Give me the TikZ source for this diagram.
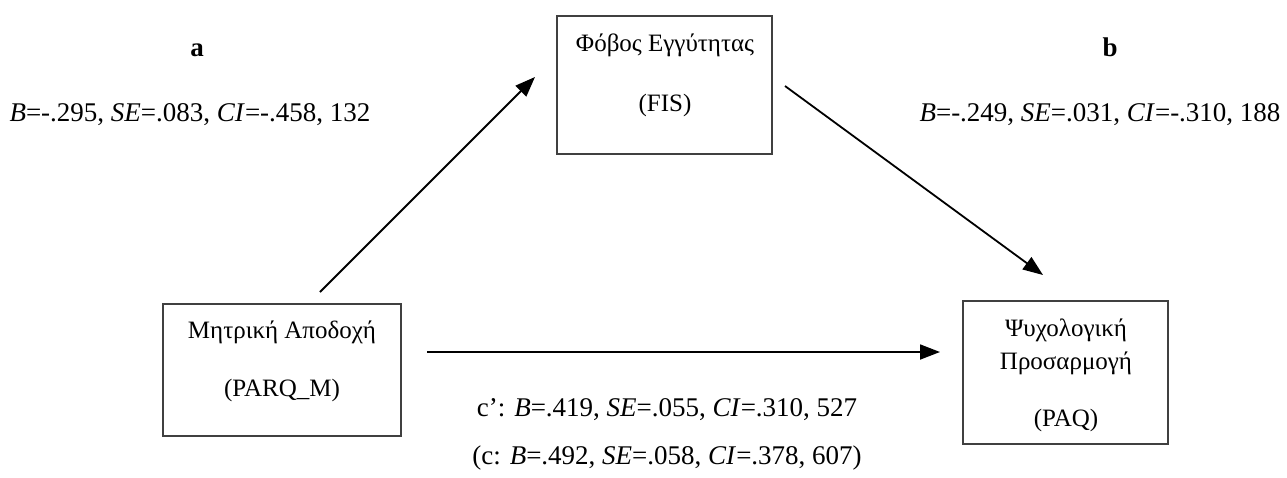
\documentclass[tikz,border=0pt]{standalone}
\usepackage{fontspec}
\setmainfont{Liberation Serif}
\usetikzlibrary{arrows.meta}
\begin{document}
\begin{tikzpicture}[x=1pt,y=-1pt,
  boxstyle/.style={draw=black!75,line width=1.1pt},
  txt/.style={inner sep=0pt,anchor=center,font=\fontsize{25}{30}\selectfont},
  lbl/.style={inner sep=0pt,anchor=center,font=\fontsize{27}{32}\selectfont},
  conn/.style={line width=1.8pt,-{Triangle[length=20pt,width=15pt]}}]
\useasboundingbox (0,0) rectangle (1287,477);
% boxes
\draw[boxstyle] (557,16) rectangle (772,154);
\draw[boxstyle] (163,304) rectangle (401,436);
\draw[boxstyle] (963,301) rectangle (1168,444);
% box texts
\node[txt] (fis1) at (665,45) {Φόβος Εγγύτητας};
\node[txt] (fis2) at (665,105) {(FIS)};
\node[txt] (parq1) at (282,332) {Μητρική Αποδοχή};
\node[txt] (parq2) at (282,390) {(PARQ\_M)};
\node[txt] (paq1) at (1066,330) {Ψυχολογική};
\node[txt] (paq2) at (1066,363) {Προσαρμογή};
\node[txt] (paq3) at (1066,420) {(PAQ)};
% labels
\node[lbl,anchor=base,font=\fontsize{27}{32}\selectfont\bfseries] (la) at (197,56) {a};
\node[lbl,anchor=base,font=\fontsize{27}{32}\selectfont\bfseries] (lb) at (1110,56) {b};
\node[lbl] (sa) at (190,115) {\textit{B}=-.295, \textit{SE}=.083, \textit{CI}=-.458, 132};
\node[lbl] (sb) at (1100,115) {\textit{B}=-.249, \textit{SE}=.031, \textit{CI}=-.310, 188};
\node[lbl] (sc1) at (667,410) {c’: \textit{B}=.419, \textit{SE}=.055, \textit{CI}=.310, 527};
\node[lbl] (sc2) at (667,458) {(c: \textit{B}=.492, \textit{SE}=.058, \textit{CI}=.378, 607)};
% connector end points
\coordinate (a0) at (320,292);
\coordinate (a1) at (535,77);
\coordinate (b0) at (785,86);
\coordinate (b1) at (1043,275);
\coordinate (c0) at (427,352);
\coordinate (c1) at (940,352);
\draw[conn] (a0) -- (a1);
\draw[conn] (b0) -- (b1);
\draw[conn] (c0) -- (c1);
\end{tikzpicture}
\end{document}
